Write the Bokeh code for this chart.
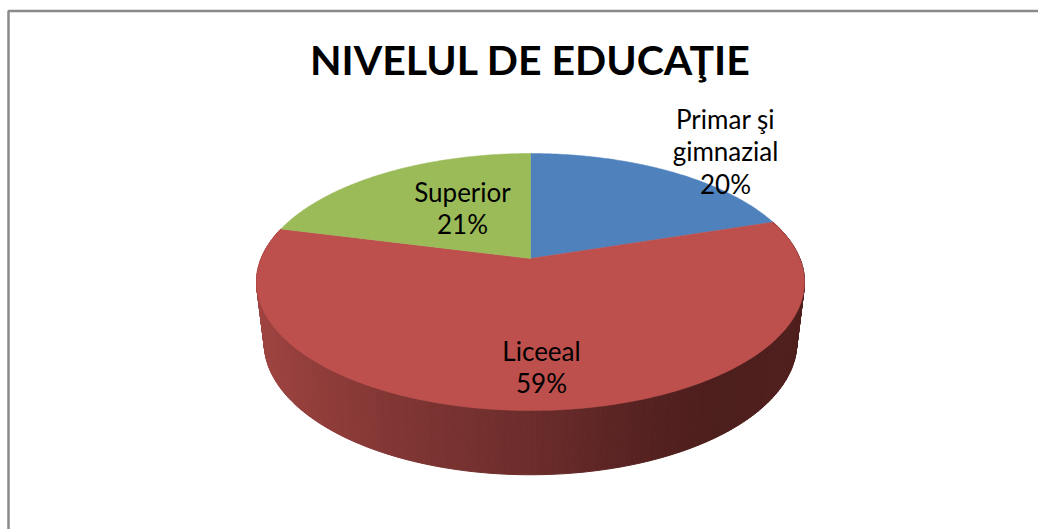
import numpy as np
from bokeh.plotting import figure
from bokeh.models import Range1d
from bokeh.core.properties import value
from bokeh.embed import file_html
from bokeh.resources import INLINE

# Data
categories = ["Primar şi\ngimnazial", "Liceeal", "Superior"]
shares = [20, 59, 21]
percent_labels = ["20%", "59%", "21%"]
slice_colors = ["#4f81bd", "#bd4f4c", "#9bbb59"]
title_text = "NIVELUL DE EDUCAŢIE"

# Wall shading, left to right across the pie
wall_x_stops = [256, 300, 400, 530, 650, 720, 804]
wall_r = [0x9f, 0x94, 0x80, 0x6c, 0x55, 0x4c, 0x50]
wall_g = [0x44, 0x3f, 0x36, 0x2d, 0x22, 0x1e, 0x20]
wall_b = [0x41, 0x3c, 0x34, 0x2c, 0x21, 0x1c, 0x1e]

W, H = 1038, 529
p = figure(width=W, height=H, output_backend="svg", toolbar_location=None,
           x_range=Range1d(0, W), y_range=Range1d(H, 0),
           min_border=0, outline_line_color=None, x_axis_type=None, y_axis_type=None)
p.grid.visible = False

# perspective camera for the disc
CX, K, A, B, C = 530.0, 269.4, 258.0, -77.0, 0.183
BOT_SX, BOT_CY, BOT_SY, TOP_CY = 0.972, 342.0, 1.029, 281.5


def top_xy(theta_frac):
    t = np.asarray(theta_frac) * 2 * np.pi
    u, v = np.sin(t), np.cos(t)
    d = 1 + C * v
    return CX + K * u / d, (A + B * v) / d


def bot_xy(theta_frac):
    x, y = top_xy(theta_frac)
    return CX + BOT_SX * (x - CX), BOT_CY + BOT_SY * (y - TOP_CY)


fracs = np.array(shares, dtype=float) / sum(shares)
edges = np.concatenate([[0], np.cumsum(fracs)])

# chart frame
p.line([8, 8, W], [H, 10.5, 10.5], line_color="#8a8a8a", line_width=2.5)

# side wall of the front slice
n = 220
ts = np.linspace(edges[1], edges[2], n + 1)
xs_t, ys_t = top_xy(ts)
xs_b, ys_b = bot_xy(ts)
xs, ys, cols = [], [], []
for i in range(n):
    xs.append([xs_t[i], xs_t[i + 1], xs_b[i + 1], xs_b[i]])
    ys.append([ys_t[i], ys_t[i + 1], ys_b[i + 1], ys_b[i]])
    mx = (xs_t[i] + xs_t[i + 1]) / 2
    r = int(np.interp(mx, wall_x_stops, wall_r))
    g = int(np.interp(mx, wall_x_stops, wall_g))
    b = int(np.interp(mx, wall_x_stops, wall_b))
    cols.append(f"#{r:02x}{g:02x}{b:02x}")
p.patches(xs, ys, fill_color=cols, line_color=cols, line_width=1)

# top faces
for i in range(len(shares)):
    tt = np.linspace(edges[i], edges[i + 1], 160)
    x, y = top_xy(tt)
    p.patch(np.r_[CX, x], np.r_[A, y], fill_color=slice_colors[i],
            line_color=slice_colors[i], line_width=0.5)

# labels
font = value("Lato")
label_pos = [(725, 118), (541, 350), (462, 191)]
for (lx, ly), c, pct in zip(label_pos, categories, percent_labels):
    lines = c.split("\n") + [pct]
    for j, t in enumerate(lines):
        p.text([lx], [ly + j * 32.5], text=[t], text_font=font, text_font_size="26px",
               text_color="#000000", text_align="center", text_baseline="middle")

p.text([530], [59], text=[title_text], text_font=font, text_font_size="41px",
       text_font_style="bold", text_color="#000000",
       text_align="center", text_baseline="middle")

open("out.html", "w").write(file_html(p, INLINE))
